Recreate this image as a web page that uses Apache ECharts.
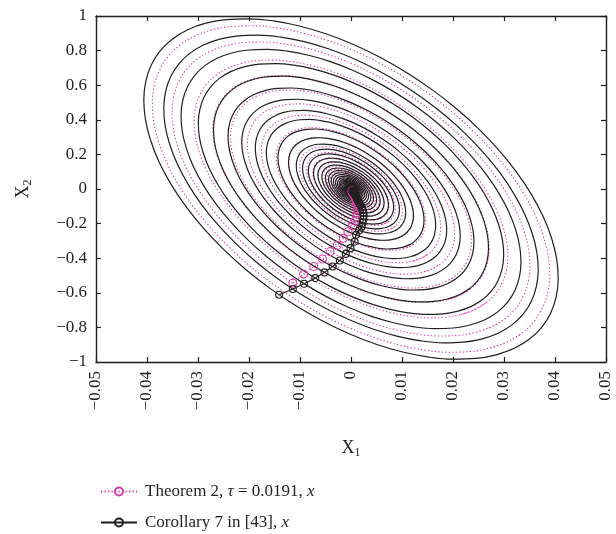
<!DOCTYPE html>
<html>
<head>
<meta charset="utf-8">
<script src="https://cdn.jsdelivr.net/npm/echarts@6/dist/echarts.min.js"></script>
<style>
  html, body { margin: 0; padding: 0; background: #fff; }
  #main { width: 616px; height: 534px; }
</style>
</head>
<body>
<div id="main"></div>
<script>
// outer black loop, read around the ellipse (X1, X2)
var loopX1 = [0.03214, 0.03514, 0.03754, 0.03930, 0.04039, 0.04079, 0.04049, 0.03949, 0.03783, 0.03551, 0.03259, 0.02910,
    0.02513, 0.02072, 0.01595, 0.01091, 0.00569, 0.00037, -0.00495, -0.01019, -0.01527, -0.02008, -0.02454, -0.02858,
    -0.03214, -0.03514, -0.03754, -0.03930, -0.04039, -0.04079, -0.04049, -0.03949, -0.03783, -0.03551, -0.03259, -0.02910,
    -0.02513, -0.02072, -0.01595, -0.01091, -0.00569, -0.00037, 0.00495, 0.01019, 0.01527, 0.02008, 0.02454, 0.02858];
var loopX2 = [-0.9246, -0.8711, -0.8027, -0.7205, -0.6260, -0.5209, -0.4068, -0.2858, -0.1598, -0.0311, 0.0981, 0.2256,
    0.3493, 0.4670, 0.5767, 0.6765, 0.7648, 0.8400, 0.9008, 0.9461, 0.9754, 0.9879, 0.9835, 0.9623,
    0.9246, 0.8711, 0.8027, 0.7205, 0.6260, 0.5209, 0.4068, 0.2858, 0.1598, 0.0311, -0.0981, -0.2256,
    -0.3493, -0.4670, -0.5767, -0.6765, -0.7648, -0.8400, -0.9008, -0.9461, -0.9754, -0.9879, -0.9835, -0.9623];

// size of every loop relative to the outer one
var blackRadius = [0.996, 0.900, 0.817, 0.734, 0.661, 0.591, 0.525, 0.460, 0.407, 0.351, 0.300, 0.263, 0.233, 0.205, 0.180,
    0.159, 0.140, 0.123, 0.108, 0.095, 0.084, 0.074, 0.065, 0.057, 0.050, 0.044, 0.039, 0.034, 0.030, 0.026, 0.023, 0.020,
    0.018, 0.016, 0.014, 0.012];
var pinkRadius = [0.955, 0.860, 0.754, 0.664, 0.579, 0.498, 0.431, 0.359, 0.301, 0.247, 0.213, 0.183, 0.157, 0.135, 0.116,
    0.100, 0.086, 0.074, 0.064, 0.055, 0.047, 0.040, 0.035, 0.030, 0.026, 0.022, 0.019, 0.016, 0.014];

// markers (one per loop)
var blackMarkX1 = [-0.0141, -0.0114, -0.0092, -0.0070, -0.0052, -0.0036, -0.0022, -0.0010, -0.0001, 0.0007, 0.0010, 0.0016,
    0.0021, 0.0023, 0.0024, 0.0025, 0.0024, 0.0023, 0.0021, 0.0018, 0.0016, 0.0015, 0.0013, 0.0012, 0.0011, 0.0010, 0.0009,
    0.0008, 0.0007, 0.0006, 0.0005, 0.0005, 0.0004, 0.0004, 0.0003, 0.0003];
var blackMarkX2 = [-0.611, -0.578, -0.548, -0.515, -0.482, -0.448, -0.413, -0.375, -0.342, -0.304, -0.265, -0.240, -0.218,
    -0.195, -0.174, -0.155, -0.137, -0.121, -0.106, -0.094, -0.083, -0.073, -0.064, -0.056, -0.049, -0.043, -0.038, -0.033,
    -0.029, -0.025, -0.022, -0.019, -0.017, -0.015, -0.013, -0.011];
var pinkMarkX1 = [-0.0114, -0.0093, -0.0073, -0.0056, -0.0041, -0.0027, -0.0015, -0.0006, 0.0003, 0.0008, 0.0011, 0.0012,
    0.0013, 0.0013, 0.0012, 0.0011, 0.0010, 0.0009, 0.0008, 0.0007, 0.0006, 0.0005, 0.0004, 0.0004, 0.0003, 0.0003, 0.0002, 0.0002];
var pinkMarkX2 = [-0.544, -0.492, -0.448, -0.405, -0.362, -0.326, -0.285, -0.247, -0.213, -0.185, -0.160, -0.138, -0.119,
    -0.103, -0.089, -0.077, -0.066, -0.057, -0.049, -0.042, -0.036, -0.031, -0.027, -0.023, -0.020, -0.017, -0.014, -0.012];

var xTicks = [-0.05, 0.05, 0.01];
var yTicks = [-1, 1, 0.2];

var pinkName = 'Theorem 2, τ = 0.0191, x';
var blackName = 'Corollary 7 in [43], x';
var ink = '#231f20';
var pink = '#d23fa3';
var font = 'Liberation Serif';

//一圈一圈的椭圆，首尾多接两点让平滑闭合
function buildLoop(r) {
    var pts = [];
    var n = loopX1.length;
    for (var i = -1; i <= n + 1; i++) {
        var k = (i + n) % n;
        pts.push([loopX1[k] * r, loopX2[k] * r]);
    }
    return pts;
}

function markPoints(xs, ys) {
    var pts = [];
    for (var i = 0; i < xs.length; i++) pts.push([xs[i], ys[i]]);
    return pts;
}

function fmt(v) {
    return String(v).replace('-', '\u2212');
}

var series = [];
pinkRadius.forEach(function (r) {
    series.push({
        name: 'pinkLoop', type: 'line', data: buildLoop(r), smooth: 0.4, symbol: 'none',
        lineStyle: { color: pink, width: 1.1, type: [1.3, 2.2] }, z: 2, silent: true
    });
});
blackRadius.forEach(function (r) {
    series.push({
        name: 'blackLoop', type: 'line', data: buildLoop(r), smooth: 0.4, symbol: 'none',
        lineStyle: { color: ink, width: 1.2 }, z: 3, silent: true
    });
});
series.push({
    name: pinkName, type: 'line', data: markPoints(pinkMarkX1, pinkMarkX2),
    symbol: 'circle', symbolSize: 8, showSymbol: true,
    itemStyle: { color: 'rgba(255,255,255,0)', borderColor: pink, borderWidth: 1.1 },
    lineStyle: { color: pink, width: 1.1, type: [1.3, 2.2] }, z: 4
});
series.push({
    name: blackName, type: 'line', data: markPoints(blackMarkX1, blackMarkX2),
    symbol: 'circle', symbolSize: 7, showSymbol: true,
    itemStyle: { color: 'rgba(255,255,255,0)', borderColor: ink, borderWidth: 1.1 },
    lineStyle: { color: ink, width: 1.2 }, z: 5
});

var labelStyle = { fontFamily: font, fontSize: 17, color: ink };
var tick = { show: true, inside: true, length: 5, lineStyle: { color: ink, width: 1.2 } };
var line = { show: true, onZero: false, lineStyle: { color: ink, width: 1.4 } };
var richName = {
    a: { fontFamily: font, fontSize: 18, color: ink },
    b: { fontFamily: font, fontSize: 12, color: ink, padding: [9, 0, 0, 0] }
};
var legendText = {
    rich: {
        t0: { fontFamily: font, fontSize: 17, color: ink, padding: [0, 0, 0, 3] },
        t: { fontFamily: font, fontSize: 17, color: ink },
        i: { fontFamily: font, fontSize: 17, fontStyle: 'italic', color: ink }
    }
};

var option = {
    animation: false,
    backgroundColor: '#fff',
    grid: { left: 96, right: 10, top: 16, bottom: 172, containLabel: false },
    xAxis: [{
        type: 'value', min: xTicks[0], max: xTicks[1], interval: xTicks[2], position: 'bottom',
        axisLine: line, axisTick: tick, splitLine: { show: false },
        axisLabel: Object.assign({ rotate: 90, margin: 9, formatter: fmt }, labelStyle),
        name: '{a|X}{b|1}', nameLocation: 'middle', nameGap: 76,
        nameTextStyle: { rich: richName }
    }, {
        type: 'value', min: xTicks[0], max: xTicks[1], interval: xTicks[2], position: 'top',
        axisLine: line, axisTick: tick, axisLabel: { show: false }, splitLine: { show: false }
    }],
    yAxis: [{
        type: 'value', min: yTicks[0], max: yTicks[1], interval: yTicks[2], position: 'left',
        axisLine: line, axisTick: tick, splitLine: { show: false },
        axisLabel: Object.assign({ margin: 9, formatter: fmt }, labelStyle),
        name: '{a|X}{b|2}', nameLocation: 'middle', nameGap: 62, nameRotate: 90,
        nameTextStyle: { rich: richName }
    }, {
        type: 'value', min: yTicks[0], max: yTicks[1], interval: yTicks[2], position: 'right',
        axisLine: line, axisTick: tick, axisLabel: { show: false }, splitLine: { show: false }
    }],
    legend: [{
        data: [pinkName], left: 95, top: 478, itemWidth: 36, itemHeight: 10,
        formatter: function () { return '{t0|Theorem 2, }{i|τ}{t| = 0.0191, }{i|x}'; },
        textStyle: legendText
    }, {
        data: [blackName], left: 95, top: 509, itemWidth: 36, itemHeight: 10,
        formatter: function () { return '{t0|Corollary 7 in [43], }{i|x}'; },
        textStyle: legendText
    }],
    series: series
};

var myChart = echarts.init(document.getElementById('main'));
myChart.setOption(option);
</script>
</body>
</html>
